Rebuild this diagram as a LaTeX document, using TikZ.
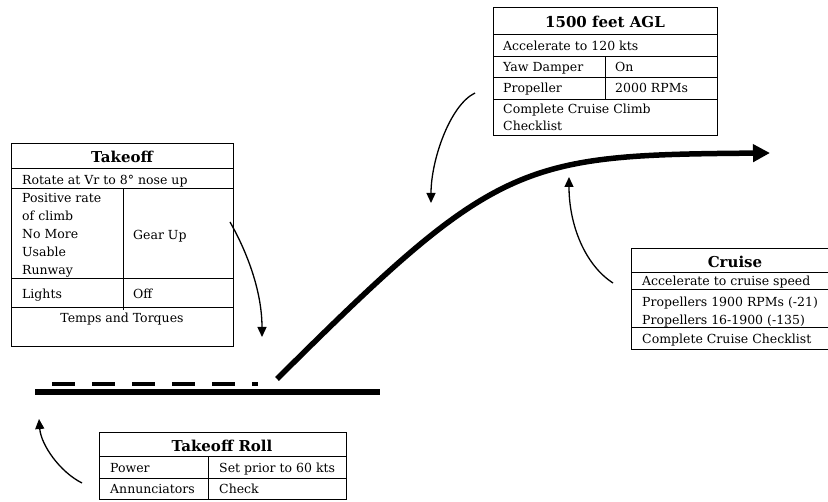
\documentclass[tikz,border=0pt]{standalone}
\usepackage{fontspec}
\setmainfont{DejaVu Serif}
\usetikzlibrary{arrows.meta}
\tikzset{
  panel/.style={draw, line width=1pt, inner sep=0pt, anchor=north west},
  sep/.style={line width=1pt},
  entry/.style={anchor=base west, inner sep=0pt, font=\fontsize{12.5}{15}\selectfont},
  heading/.style={anchor=base, inner sep=0pt, font=\fontsize{15}{18}\selectfont\bfseries},
  callout/.style={line width=1.3pt, -{Triangle[length=10pt,width=9pt]}},
}
\begin{document}
\begin{tikzpicture}[x=1pt,y=-1pt]
\useasboundingbox (0,0) rectangle (828,502);

\node[panel, minimum width=222pt, minimum height=203pt] (takeoff) at (11,143) {};
\draw[sep] (11,169) -- (233,169);
\draw[sep] (11,189) -- (233,189);
\draw[sep] (11,279) -- (233,279);
\draw[sep] (11,308) -- (233,308);
\draw[sep] (123,189) -- (123,310);
\node[heading] (takeoffTitle) at (122,163) {Takeoff};
\node[entry] (rotate) at (22,185) {Rotate at Vr to 8° nose up};
\node[entry] (posA) at (22,203) {Positive rate};
\node[entry] (posB) at (22,221) {of climb};
\node[entry] (posC) at (22,239) {No More};
\node[entry] (posD) at (22,257) {Usable};
\node[entry] (posE) at (22,275) {Runway};
\node[entry] (gear) at (133,240) {Gear Up};
\node[entry] (lights) at (22,299) {Lights};
\node[entry] (lightsOff) at (133,299) {Off};
\node[entry, anchor=base] (temps) at (122,323) {Temps and Torques};

\node[panel, minimum width=224pt, minimum height=128pt] (agl) at (493,7) {};
\draw[sep] (493,35) -- (717,35);
\draw[sep] (493,57) -- (717,57);
\draw[sep] (493,78) -- (717,78);
\draw[sep] (493,100) -- (717,100);
\draw[sep] (605,57) -- (605,100);
\node[heading] (aglTitle) at (605,28) {1500 feet AGL};
\node[entry] (accel) at (503,51) {Accelerate to 120 kts};
\node[entry] (yaw) at (503,72) {Yaw Damper};
\node[entry] (yawOn) at (615,72) {On};
\node[entry] (prop) at (503,93) {Propeller};
\node[entry] (propRpm) at (615,93) {2000 RPMs};
\node[entry] (climbA) at (503,114) {Complete Cruise Climb};
\node[entry] (climbB) at (503,131) {Checklist};

\node[panel, minimum width=197pt, minimum height=101pt] (cruise) at (631,248) {};
\draw[sep] (631,273) -- (828,273);
\draw[sep] (631,290) -- (828,290);
\draw[sep] (631,328) -- (828,328);
\node[heading] (cruiseTitle) at (735,268) {Cruise};
\node[entry] (cruiseAccel) at (642,286) {Accelerate to cruise speed};
\node[entry] (propsA) at (642,307) {Propellers 1900 RPMs (-21)};
\node[entry] (propsB) at (642,325) {Propellers 16-1900 (-135)};
\node[entry] (cruiseList) at (642,344) {Complete Cruise Checklist};

\node[panel, minimum width=247pt, minimum height=67pt] (roll) at (99,432) {};
\draw[sep] (99,457) -- (346,457);
\draw[sep] (99,479) -- (346,479);
\draw[sep] (208,457) -- (208,499);
\node[heading] (rollTitle) at (222,452) {Takeoff Roll};
\node[entry] (power) at (110,473) {Power};
\node[entry] (powerSet) at (219,473) {Set prior to 60 kts};
\node[entry] (annun) at (110,494) {Annunciators};
\node[entry] (annunChk) at (219,494) {Check};

\coordinate (rwyA) at (35,392);
\coordinate (rwyB) at (380,392);
\coordinate (lineA) at (52,384);
\coordinate (lineB) at (258,384);
\coordinate (liftoff) at (277,379);
\coordinate (level) at (770,153);
\draw[line width=6pt] (rwyA) -- (rwyB);
\draw[line width=4pt, dash pattern=on 23pt off 17pt] (lineA) -- (lineB);
\draw[line width=5.5pt, -{Triangle[length=17pt,width=17pt]}] (liftoff) .. controls (497,160) and (520,155) .. (level);

\coordinate (gearFrom) at (230,222);
\coordinate (gearTo) at (262,337);
\coordinate (aglFrom) at (475,93);
\coordinate (aglTo) at (431,203);
\coordinate (cruiseFrom) at (613,283);
\coordinate (cruiseTo) at (569,177);
\coordinate (rollFrom) at (82,483);
\coordinate (rollTo) at (39,419);
\draw[callout] (gearFrom) .. controls (246,250) and (262,290) .. (gearTo);
\draw[callout] (aglFrom) .. controls (450,105) and (431,160) .. (aglTo);
\draw[callout] (cruiseFrom) .. controls (585,265) and (569,225) .. (cruiseTo);
\draw[callout] (rollFrom) .. controls (60,472) and (41,445) .. (rollTo);
\end{tikzpicture}
\end{document}
